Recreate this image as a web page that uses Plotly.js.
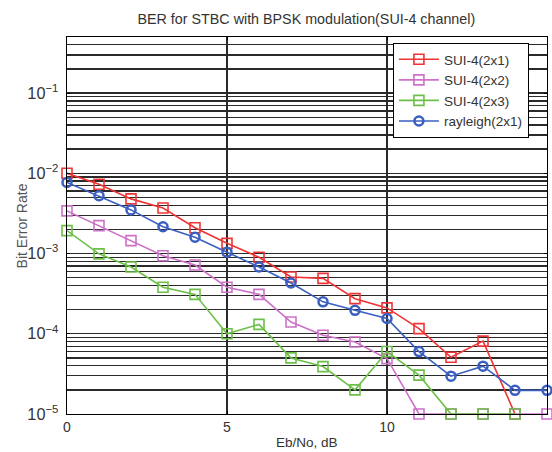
<!DOCTYPE html>
<html><head><meta charset="utf-8">
<script src="https://cdn.plot.ly/plotly-3.0.1.min.js"></script>
<style>body{margin:0;background:#fff}</style>
</head><body>
<div id="chart" style="width:552px;height:452px"></div>
<script>
const ebno = [0,1,2,3,4,5,6,7,8,9,10,11,12,13,14,15];
const sui4_2x1 = [1.0e-2, 7.3e-3, 4.8e-3, 3.7e-3, 2.1e-3, 1.34e-3, 9.0e-4, 5.1e-4, 4.9e-4, 2.74e-4, 2.1e-4, 1.16e-4, 5.1e-5, 8.1e-5, 1.0e-5, null];
const sui4_2x2 = [3.4e-3, 2.23e-3, 1.45e-3, 9.4e-4, 7.2e-4, 3.8e-4, 3.1e-4, 1.4e-4, 9.6e-5, 7.9e-5, 4.9e-5, 1.0e-5, 1.0e-5, 1.0e-5, 1.0e-5, 1.0e-5];
const sui4_2x3 = [1.93e-3, 9.9e-4, 6.8e-4, 3.8e-4, 3.1e-4, 1.0e-4, 1.31e-4, 5.0e-5, 3.9e-5, 2.0e-5, 6.0e-5, 3.05e-5, 1.0e-5, 1.0e-5, 1.0e-5, null];
const rayleigh_2x1 = [7.7e-3, 5.25e-3, 3.5e-3, 2.16e-3, 1.6e-3, 1.04e-3, 6.8e-4, 4.3e-4, 2.5e-4, 1.96e-4, 1.55e-4, 6.0e-5, 2.96e-5, 3.95e-5, 1.97e-5, 1.97e-5];
const names = ['SUI-4(2x1)', 'SUI-4(2x2)', 'SUI-4(2x3)', 'rayleigh(2x1)'];
const colors = ['#f03434', '#cc72c8', '#6cc048', '#3a5fc0'];
const symbols = ['square-open', 'square-open', 'square-open', 'circle-open'];
const series = [sui4_2x1, sui4_2x2, sui4_2x3, rayleigh_2x1];
const yTitle = 'Bit Error Rate';
const xTitle = 'Eb/No, dB';

const FONT = 'Liberation Sans, Arial, sans-serif';
const traces = series.map((ys, i) => ({
  x: ebno, y: ys, name: names[i], type: 'scatter', mode: 'lines+markers',
  cliponaxis: false, connectgaps: false,
  line: {color: colors[i], width: 1.6},
  marker: {symbol: symbols[i], size: i === 3 ? 9 : 10, color: colors[i], line: {color: colors[i], width: i === 3 ? 2.5 : 1.6}}
}));

const layout = {
  width: 552, height: 452,
  margin: {l: 67, r: 5, t: 37, b: 38},
  paper_bgcolor: '#fff', plot_bgcolor: '#fff',
  font: {family: FONT, size: 13, color: '#333'},
  showlegend: true,
  title: {text: 'BER for STBC with BPSK modulation(SUI-4 channel)', x: 0.555, xanchor: 'center', y: 0.958, yanchor: 'middle', font: {family: FONT, size: 14.3, color: '#333'}},
  xaxis: {
    range: [0, 15], dtick: 5, tick0: 0,
    showline: true, mirror: 'allticks', linecolor: '#000', linewidth: 1,
    ticks: 'inside', ticklen: 3, tickcolor: '#000',
    showgrid: true, gridcolor: '#2a2a2a', gridwidth: 1.4, zeroline: false,
    tickfont: {family: FONT, size: 14, color: '#333'}
  },
  yaxis: {
    type: 'log', range: [-5, Math.log10(0.5)], dtick: 1,
    exponentformat: 'power', showexponent: 'all',
    showline: true, mirror: 'allticks', linecolor: '#000', linewidth: 1,
    ticks: 'inside', ticklen: 3, tickcolor: '#000', ticklabelstandoff: 5,
    showgrid: true, gridcolor: '#2a2a2a', gridwidth: 1.4, zeroline: false,
    minor: {showgrid: true, gridcolor: '#2a2a2a', gridwidth: 1.4, dtick: 'D1', ticks: ''},
    tickfont: {family: FONT, size: 13, color: '#333'}
  },
  annotations: [{
    text: yTitle, xref: 'paper', yref: 'paper', x: -0.094, y: 0.5,
    xanchor: 'center', yanchor: 'middle', textangle: -90, showarrow: false,
    font: {family: FONT, size: 14, color: '#555'}
  }, {
    text: xTitle, xref: 'paper', yref: 'paper', x: 0.5, y: -0.0975,
    xanchor: 'center', yanchor: 'bottom', showarrow: false, borderpad: 0,
    font: {family: FONT, size: 13.5, color: '#333'}
  }],
  legend: {
    x: 0.679, y: 0.984, xanchor: 'left', yanchor: 'top',
    bgcolor: '#fff', bordercolor: '#000', borderwidth: 1,
    font: {family: FONT, size: 13.5, color: '#333'},
    tracegroupgap: 0, itemwidth: 40
  }
};
Plotly.newPlot('chart', traces, layout, {displayModeBar: false, staticPlot: true});
</script>
</body></html>
